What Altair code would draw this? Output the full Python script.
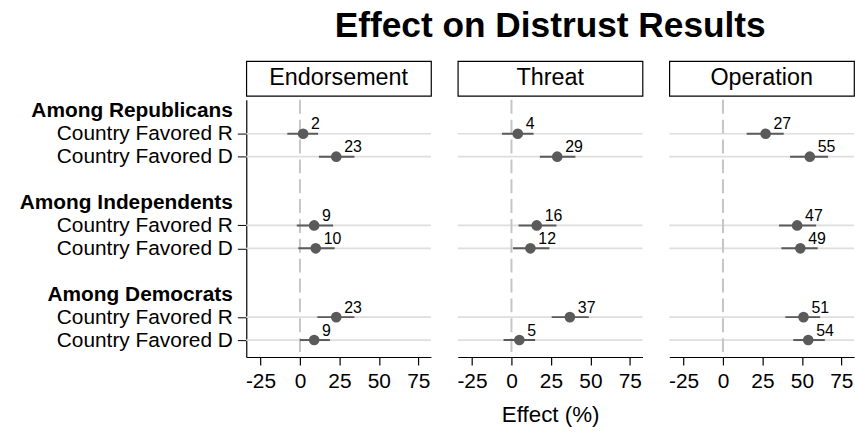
import altair as alt
import pandas as pd

FONT = "Liberation Sans"

panels = ["Endorsement", "Threat", "Operation"]
groups = ["Among Republicans", "Among Independents", "Among Democrats"]
rows = ["Country Favored R", "Country Favored D"]

# point estimates and confidence bounds, order: Rep R, Rep D, Ind R, Ind D, Dem R, Dem D
est_endorsement = [2, 23, 9, 10, 23, 9]
lo_endorsement = [-8, 12, -2, -1, 11, 0]
hi_endorsement = [11.5, 34.5, 21, 22, 34.5, 19]

est_threat = [4, 29, 16, 12, 37, 5]
lo_threat = [-6, 18, 4.5, 1, 25.5, -5]
hi_threat = [14, 40.5, 28.5, 24, 49, 15]

est_operation = [27, 55, 47, 49, 51, 54]
lo_operation = [15, 42.5, 35.5, 37, 39.5, 44.5]
hi_operation = [38.5, 66.5, 59, 60, 61.5, 64.5]

x_ticks = [-25, 0, 25, 50, 75]
zero_line = [0]

est = {"Endorsement": est_endorsement, "Threat": est_threat, "Operation": est_operation}
lo = {"Endorsement": lo_endorsement, "Threat": lo_threat, "Operation": lo_operation}
hi = {"Endorsement": hi_endorsement, "Threat": hi_threat, "Operation": hi_operation}

records = []
for p in panels:
    k = 0
    for g in range(len(groups)):
        for r in range(len(rows)):
            records.append({
                "panel": p,
                "group": groups[g],
                "row": rows[r],
                "pos": g * 4 + 1 + r,
                "est": est[p][k],
                "lo": lo[p][k],
                "hi": hi[p][k],
            })
            k += 1
df = pd.DataFrame(records)

# y-axis label positions and texts (group headers + rows)
label_map = {}
for g in range(len(groups)):
    label_map[g * 4] = groups[g]
    for r in range(len(rows)):
        label_map[g * 4 + 1 + r] = rows[r]
label_values = sorted(label_map)
expr = "''"
for v in reversed(label_values):
    expr = f"datum.value == {v} ? '{label_map[v]}' : ({expr})"

header_test = "datum.value % 4 == 0"

W, H = 186, 259
xscale = alt.Scale(domain=[-34, 83], nice=False, zero=False)
yscale = alt.Scale(domain=[-0.48, 10.74], nice=False, zero=False, reverse=True)

yaxis = alt.Axis(
    values=label_values,
    labelExpr=expr,
    title=None,
    grid=False,
    labelOverlap=False,
    labelFlush=False,
    labelLimit=0,
    labelFont=FONT,
    labelFontSize=21,
    labelColor="black",
    labelPadding=5,
    labelFontWeight={"condition": {"test": header_test, "value": "bold"}, "value": "normal"},
    tickOpacity={"condition": {"test": header_test, "value": 0}, "value": 1},
    tickSize=9,
    tickColor="black",
    domainColor="black",
    domainWidth=1.2,
)


def xaxis(i):
    kw = dict(
        values=x_ticks,
        labelExpr="'' + datum.value",
        grid=False,
        labelFont=FONT,
        labelFontSize=21,
        labelColor="black",
        labelPadding=6,
        labelFlush=False,
        tickSize=8,
        tickColor="black",
        tickWidth=1.2,
        domainColor="black",
        domainWidth=1.2,
        titleFont=FONT,
        titleFontSize=22.5,
        titleFontWeight="normal",
        titleColor="black",
        titlePadding=12,
    )
    kw["title"] = "Effect (%)" if i == 1 else ""
    return alt.Axis(**kw)


def panel(i, name):
    d = df[df["panel"] == name]
    base = alt.Chart(d)
    ax = xaxis(i)
    y_enc = alt.Y("pos:Q", scale=yscale, axis=yaxis if i == 0 else None)

    grid = base.mark_rule(color="#dedede", strokeWidth=1.7).encode(y=y_enc)
    zero = alt.Chart(pd.DataFrame({"v": zero_line})).mark_rule(
        color="#c6c6c6", strokeWidth=2, strokeDash=[14, 6]
    ).encode(x=alt.X("v:Q", scale=xscale, axis=ax))
    ci = base.mark_rule(color="#5a5a5a", strokeWidth=2).encode(
        x=alt.X("lo:Q", scale=xscale, axis=ax), x2="hi:Q", y=y_enc
    )
    pts = base.mark_circle(size=115, color="#5a5a5a", opacity=1).encode(
        x=alt.X("est:Q", scale=xscale, axis=ax), y=y_enc
    )
    txt = base.mark_text(
        align="left", baseline="alphabetic", dx=8, dy=-4.5, fontSize=16, font=FONT, color="black"
    ).encode(x=alt.X("est:Q", scale=xscale, axis=ax), y=y_enc, text=alt.Text("est:Q", format=".0f"))

    plot = alt.layer(grid, zero, ci, pts, txt).properties(
        width=W, height=H, view=alt.ViewBackground(stroke="transparent", strokeWidth=0)
    )

    strip = alt.Chart(pd.DataFrame({"panel": [name]})).mark_text(
        fontSize=23.5, font=FONT, color="black"
    ).encode(text="panel:N").properties(
        width=W, height=35, view=alt.ViewBackground(stroke="black", strokeWidth=1.2, fill="white")
    )
    return alt.vconcat(strip, plot, spacing=2)


chart = alt.hconcat(*[panel(i, p) for i, p in enumerate(panels)], spacing=25).properties(
    title=alt.TitleParams(
        "Effect on Distrust Results",
        font=FONT,
        fontSize=35.5,
        fontWeight="bold",
        color="black",
        anchor="middle",
        offset=16,
        dx=114,
    ),
    padding={"left": 19, "top": 7, "right": 0, "bottom": 4},
).configure_view(stroke="transparent", strokeWidth=0).configure(background="white")

chart.save("out.html", embed_options={"renderer": "svg", "actions": False})
